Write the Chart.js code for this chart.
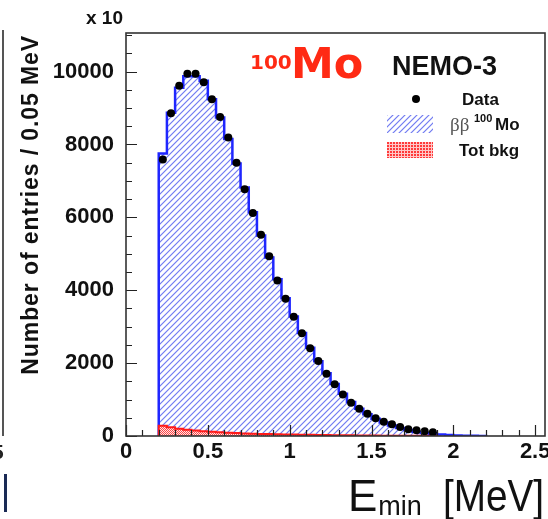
<!DOCTYPE html>
<html>
<head>
<meta charset="utf-8">
<script src="https://cdn.jsdelivr.net/npm/chart.js@4"></script>
<style>
  html,body{margin:0;padding:0;background:#fff;}
  body{width:548px;height:519px;overflow:hidden;position:relative;font-family:"Liberation Sans",Arial,sans-serif;}
  #wrap{position:absolute;left:0;top:0;width:570px;height:519px;}
  .t{position:absolute;white-space:nowrap;line-height:1;}
  .b{font-weight:bold;}
</style>
</head>
<body>
<div id="wrap"><canvas id="c" width="570" height="519"></canvas></div>

<!-- neighbouring-panel remnants on the left edge -->
<div style="position:absolute;left:2px;top:30px;width:2px;height:406px;background:#555;"></div>
<div class="t b" style="left:-8px;top:441px;font-size:21px;color:#222;">5</div>
<div style="position:absolute;left:4px;top:474px;width:3px;height:38px;background:#1a2a55;"></div>

<!-- axis annotations -->
<div class="t b" style="left:86px;top:8px;font-size:19px;color:#111;">x 10</div>
<div class="t b" id="ytitle" style="left:19px;top:35px;font-size:23px;letter-spacing:0.9px;color:#111;writing-mode:vertical-rl;transform:rotate(180deg);">Number of entries / 0.05 MeV</div>
<div class="t" style="left:348px;top:474px;font-size:44px;color:#111;">E<span style="font-size:27px;position:relative;top:4px;margin-left:1px;">min</span></div>
<div class="t" style="left:443px;top:474px;font-size:44px;color:#111;transform:scaleX(0.88);transform-origin:left top;">[MeV]</div>

<!-- isotope and experiment labels -->
<div class="t b" style="left:250px;top:52px;font-size:20px;color:#ff2a14;font-family:'DejaVu Sans',sans-serif;">100</div>
<div class="t b" style="left:291px;top:42px;font-size:43px;color:#ff2a14;font-family:'DejaVu Sans',sans-serif;">Mo</div>
<div class="t b" style="left:392px;top:53px;font-size:27px;color:#111;">NEMO-3</div>

<!-- legend -->
<div style="position:absolute;left:412px;top:95px;width:8px;height:8px;border-radius:50%;background:#000;"></div>
<div class="t b" style="left:462px;top:91px;font-size:17px;color:#111;">Data</div>
<div id="legHatch" style="position:absolute;left:387px;top:115px;width:46px;height:18px;"></div>
<div class="t" style="left:450px;top:115px;font-size:19px;color:#555;font-family:'Liberation Serif',serif;">ββ</div>
<div class="t b" style="left:474px;top:113px;font-size:11px;color:#111;">100</div>
<div class="t b" style="left:495px;top:116px;font-size:17px;color:#111;">Mo</div>
<div style="position:absolute;left:387px;top:142px;width:46px;height:16px;background:radial-gradient(circle at 1px 1px, #ff3a3a 1px, rgba(255,255,255,0) 1.3px) 0 0/3px 3px, #ffc8c8;"></div>
<div class="t b" style="left:459px;top:142px;font-size:17px;color:#111;">Tot bkg</div>

<script>
// ---- data ----
const binLow = 0.2;          // MeV, first bin lower edge
const binWidth = 0.05;       // MeV
const xTickLabels = ["0", "0.5", "1", "1.5", "2", "2.5"];
const yTickLabels = ["0", "2000", "4000", "6000", "8000", "10000"];

// data points (black dots), one per bin starting at 0.2 MeV
const dataCounts = [
  7590, 8860, 9610, 9940, 9940, 9710, 9245, 8755, 8190, 7500,
  6770, 6120, 5520, 4930, 4270, 3770, 3270, 2820, 2410, 2060,
  1710, 1420, 1140, 915, 750, 610, 485, 393, 320, 247,
  183, 155, 128, 100
];
// ββ 100Mo MC (blue hatched histogram)
const mcCounts = [
  7750, 8870, 9560, 9870, 9870, 9750, 9240, 8740, 8150, 7480,
  6820, 6140, 5500, 4900, 4300, 3780, 3280, 2830, 2420, 2050,
  1720, 1430, 1160, 930, 750, 600, 470, 370, 290, 220,
  165, 120, 85, 60, 40, 25, 15, 8, 4, 2
];
// total background (red histogram)
const bkgCounts = [
  280, 240, 200, 170, 150, 130, 115, 100, 90, 80,
  72, 64, 57, 52, 47, 42, 38, 34, 31, 28,
  25, 22, 20, 18, 16, 14, 12, 10, 9, 8,
  7, 6, 5, 4
];

// ---- helpers ----
const edge = i => +(binLow + i * binWidth).toFixed(4);
// points at each bin's lower edge; 'before' stepping holds the value across the bin
function histPoints(counts) {
  const pts = [{x: edge(0), y: 0}];
  counts.forEach((v, i) => pts.push({x: edge(i), y: v}));
  pts.push({x: edge(counts.length), y: 0});
  return pts;
}
const dataPoints = dataCounts.map((v, i) => ({x: +(binLow + (i + 0.5) * binWidth).toFixed(4), y: v}));

function tile(w, h, colorAt) {
  const c = document.createElement('canvas');
  c.width = w; c.height = h;
  const g = c.getContext('2d');
  const img = g.createImageData(w, h);
  for (let j = 0; j < h; j++) for (let i = 0; i < w; i++) {
    const col = colorAt(i, j);
    const k = (j * w + i) * 4;
    img.data[k] = col[0]; img.data[k + 1] = col[1]; img.data[k + 2] = col[2]; img.data[k + 3] = 255;
  }
  g.putImageData(img, 0, 0);
  return c;
}
const hatchCanvas = tile(6, 6, (i, j) => {
  const m = (i + j) % 6;
  if (m === 5) return [118, 128, 240];
  if (m === 4 || m === 0) return [208, 212, 252];
  return [255, 255, 255];
});
const dotCanvas = tile(4, 4, (i, j) => ((i + j) % 2 === 0) ? [255, 70, 70] : [255, 228, 228]);

document.getElementById('legHatch').style.background = 'url(' + hatchCanvas.toDataURL() + ')';

const ctx = document.getElementById('c').getContext('2d');
const hatch = ctx.createPattern(hatchCanvas, 'repeat');
const dots = ctx.createPattern(dotCanvas, 'repeat');

// inward ticks + frame, like ROOT
const frameTicks = {
  id: 'frameTicks',
  afterDraw(chart) {
    const {ctx, chartArea: a, scales: {x, y}} = chart;
    ctx.save();
    ctx.strokeStyle = '#222';
    ctx.lineWidth = 1.2;
    ctx.beginPath();
    for (let v = 0; v <= 11000 + 1; v += 500) {
      const py = Math.round(y.getPixelForValue(v)) + 0.5;
      const len = (v % 2000 === 0) ? 11 : 6;
      ctx.moveTo(a.left, py); ctx.lineTo(a.left + len, py);
    }
    for (let k = 0; k <= 25; k++) {
      const v = k / 10;
      const px = Math.round(x.getPixelForValue(v)) + 0.5;
      const len = (k % 5 === 0) ? 11 : 6;
      ctx.moveTo(px, a.bottom); ctx.lineTo(px, a.bottom - len);
    }
    ctx.stroke();
    ctx.lineWidth = 1.6;
    ctx.strokeStyle = '#333';
    ctx.strokeRect(a.left, a.top, a.right - a.left, a.bottom - a.top);
    ctx.restore();
  }
};

new Chart(ctx, {
  type: 'line',
  data: {
    datasets: [
      {
        label: 'Data',
        data: dataPoints,
        showLine: false,
        pointRadius: 4,
        pointBackgroundColor: '#000',
        pointBorderColor: '#000',
        pointBorderWidth: 0,
        order: 0
      },
      {
        label: 'Tot bkg',
        data: histPoints(bkgCounts),
        stepped: 'before',
        borderColor: '#ff1a1a',
        borderWidth: 2,
        backgroundColor: dots,
        fill: 'origin',
        pointRadius: 0,
        order: 1
      },
      {
        label: 'ββ 100Mo',
        data: histPoints(mcCounts),
        stepped: 'before',
        borderColor: '#1f26ff',
        borderWidth: 2.5,
        backgroundColor: hatch,
        fill: 'origin',
        pointRadius: 0,
        order: 2
      }
    ]
  },
  options: {
    responsive: false,
    animation: false,
    devicePixelRatio: 1,
    layout: {padding: {left: 0, right: 25, top: 33, bottom: 0}},
    plugins: {legend: {display: false}, tooltip: {enabled: false}},
    scales: {
      x: {
        type: 'linear',
        min: 0, max: 2.56,
        grid: {display: false, drawTicks: false},
        border: {display: false},
        afterFit(s) { s.height = 83; },
        afterBuildTicks(s) { s.ticks = xTickLabels.map(t => ({value: parseFloat(t)})); },
        ticks: {
          autoSkip: false, maxRotation: 0, padding: 3,
          color: '#111',
          font: {family: 'Liberation Sans', size: 22, weight: 'bold'},
          callback: (v, i) => xTickLabels[i]
        }
      },
      y: {
        min: 0, max: 11060,
        grid: {display: false, drawTicks: false},
        border: {display: false},
        afterFit(s) { s.width = 126; },
        afterBuildTicks(s) { s.ticks = yTickLabels.map(t => ({value: parseFloat(t)})); },
        ticks: {
          autoSkip: false, padding: 12,
          color: '#111',
          font: {family: 'Liberation Sans', size: 22, weight: 'bold'},
          callback: (v, i) => yTickLabels[i]
        }
      }
    }
  },
  plugins: [frameTicks]
});
</script>
</body>
</html>
